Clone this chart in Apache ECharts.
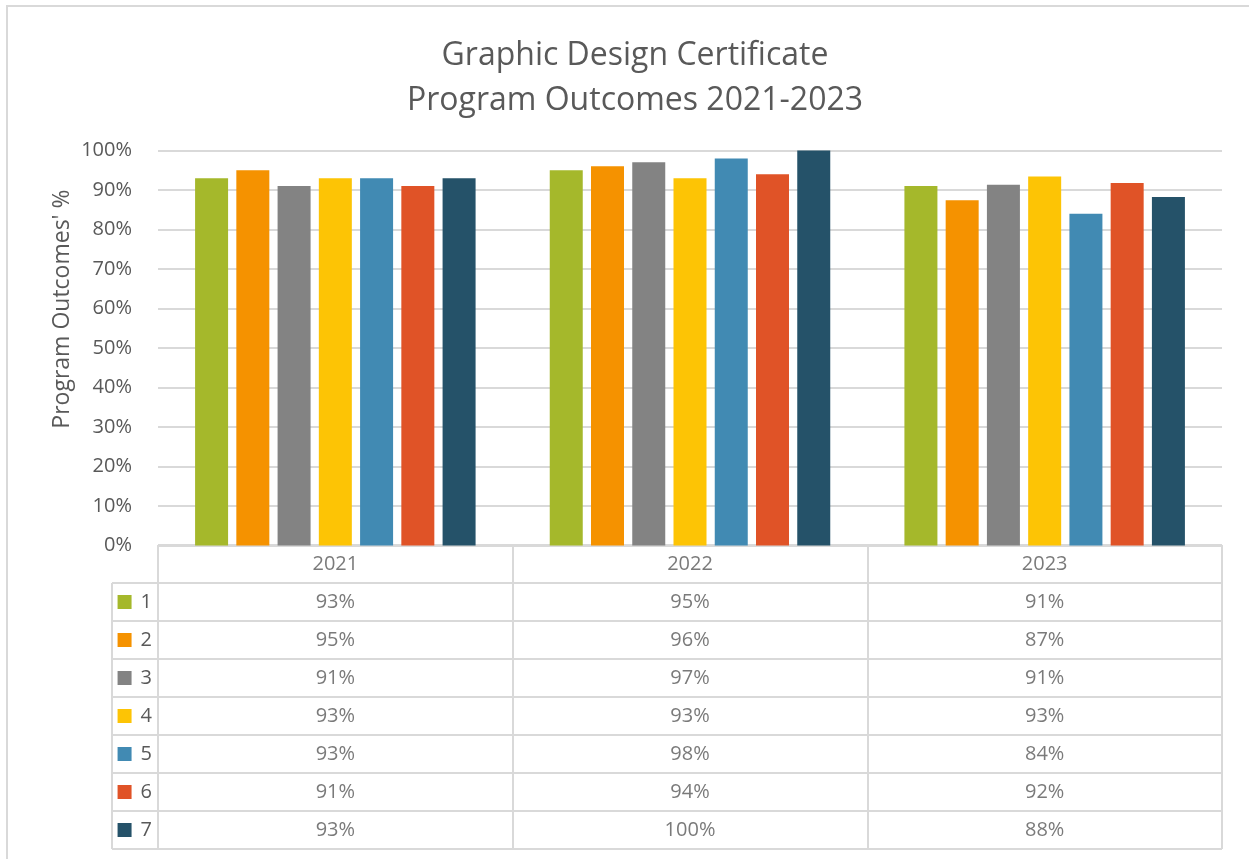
<!DOCTYPE html>
<html>
<head>
<meta charset="utf-8">
<style>
  html, body { margin: 0; padding: 0; background: #fff; }
  #chart { width: 1249px; height: 859px; }
</style>
<script src="https://cdn.jsdelivr.net/npm/echarts@6/dist/echarts.min.js"></script>
</head>
<body>
<div id="chart"></div>
<script>
// data
var years = ['2021', '2022', '2023'];
var rowNames = ['1', '2', '3', '4', '5', '6', '7'];
var outcomes2021 = [93, 95, 91, 93, 93, 91, 93];
var outcomes2022 = [95, 96, 97, 93, 98, 94, 100];
var outcomes2023 = [91, 87.4, 91.3, 93.4, 84, 91.8, 88.2];
var yTicks = [0, 10, 20, 30, 40, 50, 60, 70, 80, 90, 100];

var colors = ['#A5B82B', '#F59200', '#838383', '#FDC405', '#418AB3', '#E05327', '#255269'];
var textColor = '#595959';
var lineColor = '#d9d9d9';
var font = '"Open Sans", "Noto Sans", sans-serif';

var byYear = [outcomes2021, outcomes2022, outcomes2023];

// bar series, one per row
var barSeries = rowNames.map(function (name, i) {
    return {
        name: name,
        type: 'bar',
        xAxisIndex: 0,
        yAxisIndex: 0,
        barWidth: 33,
        barGap: '25%',
        itemStyle: { color: colors[i] },
        data: byYear.map(function (arr) { return arr[i]; })
    };
});

// table cells
var headerCells = years.map(function (y, j) { return { value: [j, 0], name: y }; });
var valueCells = [];
rowNames.forEach(function (name, i) {
    byYear.forEach(function (arr, j) {
        valueCells.push({ value: [j, i + 1], name: Math.round(arr[i]) + '%' });
    });
});

var rich = { n: { fontSize: 20, color: textColor, fontFamily: font, padding: [0, 0, 0, 9] } };
colors.forEach(function (c, i) {
    rich['s' + (i + 1)] = { width: 14, height: 14, backgroundColor: c };
});

var cellLabel = {
    show: true,
    position: 'inside',
    formatter: function (p) { return p.name; },
    fontSize: 20,
    color: textColor,
    fontFamily: font
};

var chart = echarts.init(document.getElementById('chart'));
chart.setOption({
    animation: false,
    title: {
        text: 'Graphic Design Certificate\nProgram Outcomes 2021-2023',
        left: 630,
        top: 28,
        textAlign: 'center',
        textStyle: { fontSize: 32, lineHeight: 45, fontWeight: 'normal', color: textColor, fontFamily: font }
    },
    graphic: [
        {
            type: 'rect',
            shape: { x: 7, y: 6, width: 1300, height: 900 },
            style: { fill: 'none', stroke: lineColor, lineWidth: 2 }
        },
        {
            type: 'text',
            x: 62, y: 309,
            rotation: Math.PI / 2,
            style: {
                text: "Program Outcomes' %",
                align: 'center',
                verticalAlign: 'middle',
                fontSize: 23,
                fill: textColor,
                fontFamily: font
            }
        }
    ],
    grid: [
        { left: 158, right: 27, top: 150.5, height: 395 },
        { left: 158, right: 27, top: 545, height: 304 },
        { left: 112, width: 46, top: 583, height: 266 }
    ],
    xAxis: [
        {
            type: 'category', gridIndex: 0, data: years,
            axisLabel: { show: false },
            axisTick: { show: false },
            axisLine: { lineStyle: { color: lineColor, width: 2 } }
        },
        {
            type: 'category', gridIndex: 1, data: years,
            axisLabel: { show: false },
            axisTick: { show: false },
            axisLine: { show: false },
            splitLine: { show: true, interval: 0, lineStyle: { color: lineColor, width: 2 } }
        },
        {
            type: 'category', gridIndex: 2, data: ['k'],
            axisLabel: { show: false },
            axisTick: { show: false },
            axisLine: { show: false },
            splitLine: { show: true, interval: 0, lineStyle: { color: lineColor, width: 2 } }
        }
    ],
    yAxis: [
        {
            type: 'value', gridIndex: 0, min: yTicks[0], max: yTicks[yTicks.length - 1], interval: 10,
            axisLabel: { formatter: '{value}%', fontSize: 20, color: textColor, fontFamily: font, margin: 26 },
            axisLine: { show: false },
            axisTick: { show: false },
            splitLine: { lineStyle: { color: lineColor, width: 2 } }
        },
        {
            type: 'category', gridIndex: 1, inverse: true, data: [''].concat(rowNames),
            axisTick: { show: false },
            axisLine: { show: false },
            axisLabel: {
                margin: 6,
                interval: 0,
                formatter: function (v, idx) {
                    if (!v) return '';
                    return '{s' + v + '|}{n|' + v + '}';
                },
                rich: rich
            },
            splitLine: { show: true, interval: 0, lineStyle: { color: lineColor, width: 2 } }
        },
        {
            type: 'category', gridIndex: 2, inverse: true, data: rowNames,
            axisLabel: { show: false },
            axisTick: { show: false },
            axisLine: { show: false },
            splitLine: { show: true, interval: 0, lineStyle: { color: lineColor, width: 2 } }
        }
    ],
    series: barSeries.concat([
        {
            type: 'scatter', xAxisIndex: 1, yAxisIndex: 1,
            symbolSize: 1, itemStyle: { color: 'rgba(0,0,0,0)' },
            label: cellLabel,
            data: headerCells
        },
        {
            type: 'scatter', xAxisIndex: 1, yAxisIndex: 1,
            symbolSize: 1, itemStyle: { color: 'rgba(0,0,0,0)' },
            label: cellLabel,
            data: valueCells
        }
    ])
});
</script>
</body>
</html>
